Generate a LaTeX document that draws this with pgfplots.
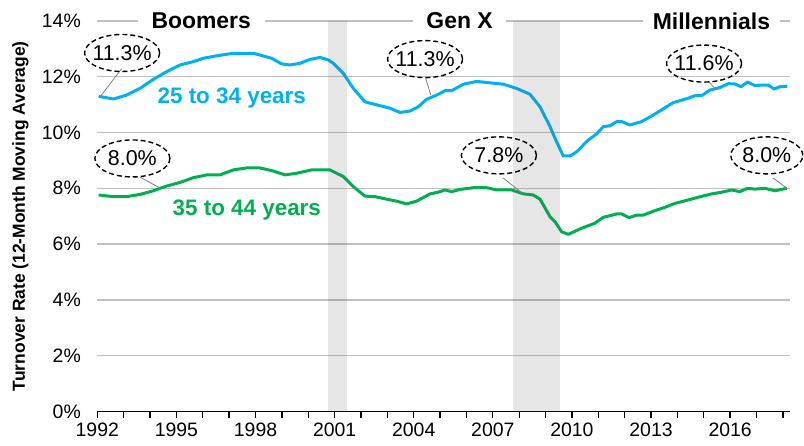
\documentclass[border=0pt]{standalone}
\usepackage{fontspec}
\setmainfont{Liberation Sans}
\usepackage{pgfplots}
\pgfplotsset{compat=1.18}
\definecolor{cblue}{HTML}{00B0F0}
\definecolor{cgreen}{HTML}{00B050}
\definecolor{gridc}{HTML}{BFBFBF}
\definecolor{bandc}{RGB}{90,85,90}
\begin{document}
\begin{tikzpicture}
\begin{axis}[
  name=ax, at={(0,0)}, anchor=south west,
  scale only axis, width=692.7bp, height=390.6bp,
  xmin=1992, xmax=2018.27, ymin=0, ymax=14,
  clip=false,
  axis x line*=bottom, axis y line*=left,
  y axis line style={draw=none},
  x axis line style={line width=1.3bp, black, -},
  xtick={1992,1995,1998,2001,2004,2007,2010,2013,2016},
  xticklabels={1992,1995,1998,2001,2004,2007,2010,2013,2016},
  minor xtick={1993,1994,1996,1997,1999,2000,2002,2003,2005,2006,2008,2009,2011,2012,2014,2015,2017,2018},
  tick align=outside,
  major tick length=6bp, minor tick length=6bp,
  x tick style={line width=1.3bp, black},
  ytick={0,2,4,6,8,10,12,14},
  yticklabels={0\%,2\%,4\%,6\%,8\%,10\%,12\%,14\%},
  y tick style={draw=none},
  ymajorgrids, grid style={gridc, line width=1.4bp},
  tick label style={font=\fontsize{19.5}{21}\selectfont},
  xticklabel style={yshift=-2bp},
  yticklabel style={xshift=-7bp},
  /pgf/number format/assume math mode=true,
  ylabel={Turnover Rate (12-Month Moving Average)},
  every axis y label/.style={at={(axis description cs:-0.111,0.5)}, rotate=90, anchor=center, font=\bfseries\fontsize{17.5}{20}\selectfont},
]
\addplot[cblue, line width=3bp, line join=round, no markers] coordinates {
(1992.05,11.30) (1992.61,11.20) (1993.11,11.34) (1993.62,11.58) (1994.12,11.90) (1994.63,12.18) (1995.14,12.42) (1995.64,12.54) (1996.02,12.66) (1996.53,12.75) (1997.16,12.84) (1997.92,12.84) (1998.61,12.66) (1998.99,12.46) (1999.31,12.42) (1999.69,12.48) (2000.07,12.62) (2000.45,12.69) (2000.76,12.60) (2000.95,12.48) (2001.33,12.12) (2001.71,11.58) (2002.15,11.10) (2002.60,10.99) (2003.10,10.87) (2003.48,10.72) (2003.86,10.77) (2004.17,10.92) (2004.49,11.19) (2004.87,11.34) (2005.19,11.50) (2005.44,11.50) (2005.88,11.73) (2006.39,11.83) (2006.89,11.78) (2007.40,11.73) (2007.90,11.58) (2008.41,11.37) (2008.79,10.92) (2009.17,10.21) (2009.36,9.79) (2009.67,9.16) (2009.93,9.16) (2010.18,9.31) (2010.62,9.73) (2010.94,9.95) (2011.19,10.21) (2011.44,10.24) (2011.70,10.39) (2011.89,10.39) (2012.20,10.27) (2012.64,10.39) (2013.02,10.59) (2013.40,10.81) (2013.84,11.07) (2014.41,11.23) (2014.67,11.32) (2014.92,11.32) (2015.23,11.52) (2015.61,11.61) (2015.93,11.75) (2016.18,11.74) (2016.41,11.64) (2016.66,11.81) (2016.94,11.68) (2017.20,11.70) (2017.45,11.70) (2017.67,11.56) (2017.89,11.64) (2018.17,11.66)
};
\addplot[cgreen, line width=3bp, line join=round, no markers] coordinates {
(1992.05,7.76) (1992.61,7.70) (1993.11,7.70) (1993.62,7.78) (1994.12,7.91) (1994.63,8.08) (1995.14,8.21) (1995.64,8.38) (1996.15,8.48) (1996.65,8.48) (1997.16,8.66) (1997.67,8.73) (1998.17,8.73) (1998.67,8.62) (1999.12,8.48) (1999.56,8.54) (2000.13,8.66) (2000.82,8.66) (2001.33,8.42) (2001.71,8.06) (2002.15,7.72) (2002.53,7.70) (2002.97,7.61) (2003.35,7.54) (2003.73,7.44) (2004.11,7.54) (2004.62,7.80) (2004.93,7.86) (2005.19,7.94) (2005.44,7.88) (2005.75,7.96) (2006.26,8.02) (2006.77,8.02) (2007.15,7.94) (2007.72,7.94) (2008.16,7.80) (2008.53,7.76) (2008.79,7.61) (2009.17,6.98) (2009.36,6.80) (2009.61,6.44) (2009.86,6.35) (2010.37,6.57) (2010.87,6.75) (2011.19,6.96) (2011.70,7.08) (2011.89,7.08) (2012.16,6.95) (2012.46,7.04) (2012.71,7.04) (2013.15,7.20) (2013.53,7.32) (2013.91,7.46) (2014.41,7.58) (2014.79,7.68) (2015.30,7.80) (2015.68,7.86) (2016.06,7.94) (2016.37,7.88) (2016.66,8.00) (2016.94,7.97) (2017.32,8.00) (2017.70,7.91) (2018.14,8.00)
};
% recession bands
\addplot[draw=none, fill=bandc, fill opacity=0.15, no markers] coordinates {(2000.74,0) (2000.74,14) (2001.46,14) (2001.46,0)} -- cycle;
\addplot[draw=none, fill=bandc, fill opacity=0.15, no markers] coordinates {(2007.75,0) (2007.75,14) (2009.53,14) (2009.53,0)} -- cycle;
% generation labels
\node[fill=white, inner xsep=14bp, inner ysep=2bp, font=\bfseries\fontsize{23}{25}\selectfont] at (axis cs:1995.94,14) {Boomers};
\node[fill=white, inner xsep=13bp, inner ysep=2bp, font=\bfseries\fontsize{23}{25}\selectfont] at (axis cs:2005.74,14) {Gen X};
\node[fill=white, inner xsep=10bp, inner ysep=2bp, font=\bfseries\fontsize{23}{25}\selectfont] at (axis cs:2015.29,14) {Millennials};
% series labels
\node[text=cblue, font=\bfseries\fontsize{22.5}{24}\selectfont] at (axis cs:1997.10,11.24) {25 to 34 years};
\node[text=cgreen, font=\bfseries\fontsize{22.5}{24}\selectfont] at (axis cs:1997.67,7.22) {35 to 44 years};
% callouts
\draw[gray, line width=0.8bp] (axis cs:1992.92,12.28) -- (axis cs:1992.13,11.31);
\draw[gray, line width=0.8bp] (axis cs:2004.46,11.92) -- (axis cs:2004.65,11.34);
\draw[gray, line width=0.8bp] (axis cs:2015.16,11.85) -- (axis cs:2015.43,11.56);
\draw[gray, line width=0.8bp] (axis cs:1993.62,8.40) -- (axis cs:1994.38,8.01);
\draw[gray, line width=0.8bp] (axis cs:2007.39,8.37) -- (axis cs:2008.15,7.80);
\draw[gray, line width=0.8bp] (axis cs:2017.62,8.37) -- (axis cs:2018.15,8.01);
\draw[black, line width=1.4bp, dash pattern=on 5bp off 3bp] (axis cs:1992.94,12.85) ellipse [x radius=37.5bp, y radius=18.5bp];
\draw[black, line width=1.4bp, dash pattern=on 5bp off 3bp] (axis cs:2004.43,12.63) ellipse [x radius=37.5bp, y radius=18.5bp];
\draw[black, line width=1.4bp, dash pattern=on 5bp off 3bp] (axis cs:2015.01,12.47) ellipse [x radius=37.5bp, y radius=18.5bp];
\draw[black, line width=1.4bp, dash pattern=on 5bp off 3bp] (axis cs:1993.33,9.07) ellipse [x radius=37.5bp, y radius=18.5bp];
\draw[black, line width=1.4bp, dash pattern=on 5bp off 3bp] (axis cs:2007.23,9.18) ellipse [x radius=37.5bp, y radius=18.5bp];
\draw[black, line width=1.4bp, dash pattern=on 5bp off 3bp] (axis cs:2017.39,9.18) ellipse [x radius=36bp, y radius=18.5bp];
\node[font=\fontsize{21.5}{23}\selectfont] at (axis cs:1992.94,12.85) {11.3\%};
\node[font=\fontsize{21.5}{23}\selectfont] at (axis cs:2004.43,12.63) {11.3\%};
\node[font=\fontsize{21.5}{23}\selectfont] at (axis cs:2015.01,12.47) {11.6\%};
\node[font=\fontsize{21.5}{23}\selectfont] at (axis cs:1993.33,9.07) {8.0\%};
\node[font=\fontsize{21.5}{23}\selectfont] at (axis cs:2007.23,9.18) {7.8\%};
\node[font=\fontsize{21.5}{23}\selectfont] at (axis cs:2017.39,9.18) {8.0\%};
\end{axis}
\pgfresetboundingbox
\useasboundingbox (-97.3bp,-34.5bp) rectangle (706.7bp,411.5bp);
\end{tikzpicture}
\end{document}
